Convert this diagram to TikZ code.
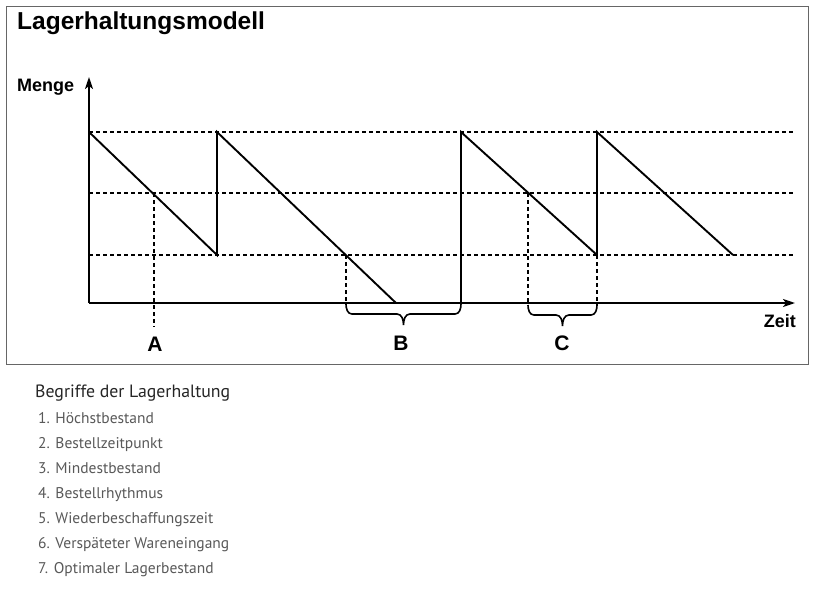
\documentclass[tikz,border=0pt]{standalone}
\usepackage{fontspec}
\setmainfont{Liberation Sans}
\newfontfamily\listfont{PT Sans}
\usetikzlibrary{arrows.meta}
\begin{document}
\begin{tikzpicture}[x=1pt,y=1pt,
  solidline/.style={line width=1.9pt, line join=miter},
  dotline/.style={line width=2.2pt, dash pattern=on 3.5pt off 3.5pt},
  braceline/.style={line width=1.6pt},
  axisarrow/.style={solidline, -{Stealth[length=12pt,width=8pt,inset=3pt]}},
  lbl/.style={font=\fontsize{21}{21}\selectfont\bfseries, inner sep=0pt},
  axlbl/.style={font=\fontsize{18}{18}\selectfont\bfseries, inner sep=0pt},
  listhead/.style={font=\listfont\fontsize{17.8}{17.8}\selectfont, text=black!85, anchor=base west, inner sep=0pt},
  listitem/.style={font=\listfont\fontsize{15.5}{15.5}\selectfont, text=black!65, anchor=base west, inner sep=0pt}
]
\useasboundingbox (0,0) rectangle (820,-600);
\fill[white] (0,0) rectangle (820,-600);
% frame
\coordinate (frameNW) at (6,-6);
\coordinate (frameSE) at (808,-364);
\draw[line width=1pt, black!60] (frameNW) rectangle (frameSE);
\node[font=\fontsize{24.5}{24.5}\selectfont\bfseries, anchor=base west, inner sep=0pt] (title) at (17,-29) {Lagerhaltungsmodell};

% coordinates
\coordinate (O) at (89,-303);
\coordinate (Ytip) at (89,-77);
\coordinate (Xtip) at (795,-303);
\coordinate (hiL) at (89,-132);  \coordinate (hiR) at (793,-132);
\coordinate (midL) at (89,-193); \coordinate (midR) at (793,-193);
\coordinate (loL) at (89,-255);  \coordinate (loR) at (793,-255);

% dotted levels
\draw[dotline] (hiL) -- (hiR);
\draw[dotline] (midL) -- (midR);
\draw[dotline] (loL) -- (loR);

% dotted verticals
\coordinate (aTop) at (154,-193); \coordinate (aBot) at (154,-327);
\coordinate (bTop) at (346,-255); \coordinate (bBot) at (346,-305);
\coordinate (c1Top) at (528,-193); \coordinate (c1Bot) at (528,-306);
\coordinate (c2Top) at (597,-255); \coordinate (c2Bot) at (597,-306);
\draw[dotline] (aTop) -- (aBot);
\draw[dotline] (bTop) -- (bBot);
\draw[dotline] (c1Top) -- (c1Bot);
\draw[dotline] (c2Top) -- (c2Bot);

% sawtooth
\coordinate (p1) at (217,-255);
\coordinate (p2) at (217,-132);
\coordinate (p3) at (396,-303);
\coordinate (p4) at (461,-303);
\coordinate (p5) at (461,-132);
\coordinate (p6) at (597,-255);
\coordinate (p7) at (597,-132);
\coordinate (p8) at (733,-255);
\draw[solidline] (hiL) -- (p1) -- (p2) -- (p3) -- (p4) -- (p5) -- (p6) -- (p7) -- (p8);

% axes
\draw[axisarrow] (O) -- (Ytip);
\draw[axisarrow] (O) -- (Xtip);
\node[axlbl, anchor=base west] (menge) at (17,-91) {Menge};
\node[axlbl, anchor=base east] (zeit) at (796,-327) {Zeit};

% braces
\draw[braceline] (346,-304) to[out=-90,in=180] (352,-314) -- (397,-314)
  to[out=0,in=90] (403.5,-325) to[out=90,in=180] (410,-314) -- (455,-314)
  to[out=0,in=-90] (461,-304);
\draw[braceline] (528,-305) to[out=-90,in=180] (534,-315) -- (556,-315)
  to[out=0,in=90] (562.5,-326) to[out=90,in=180] (569,-315) -- (591,-315)
  to[out=0,in=-90] (597,-305);

% labels
\node[lbl] (A) at (155,-344) {A};
\node[lbl] (B) at (401,-343) {B};
\node[lbl] (C) at (562,-343) {C};

% legend
\node[listhead] (head) at (35,-397) {Begriffe der Lagerhaltung};
\node[listitem] (i1) at (38,-423) {1. Höchstbestand};
\node[listitem] (i2) at (38,-448) {2. Bestellzeitpunkt};
\node[listitem] (i3) at (38,-473) {3. Mindestbestand};
\node[listitem] (i4) at (38,-498) {4. Bestellrhythmus};
\node[listitem] (i5) at (38,-523) {5. Wiederbeschaffungszeit};
\node[listitem] (i6) at (38,-548) {6. Verspäteter Wareneingang};
\node[listitem] (i7) at (38,-573) {7. Optimaler Lagerbestand};
\end{tikzpicture}
\end{document}
